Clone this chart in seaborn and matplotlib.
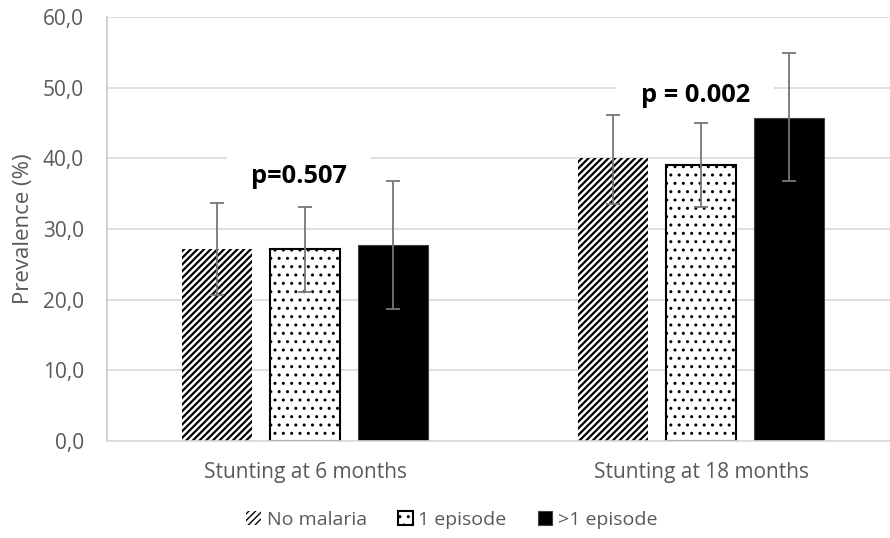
import matplotlib
matplotlib.use("Agg")
import matplotlib.pyplot as plt
import matplotlib.patches as mpatches
import seaborn as sns
import pandas as pd

# ---- data ----
categories = ["Stunting at 6 months", "Stunting at 18 months"]
groups = ["No malaria", "1 episode", ">1 episode"]
prev_no_malaria = [27.2, 40.0]
prev_one_episode = [27.2, 39.1]
prev_multi_episode = [27.7, 45.7]
upper_no_malaria = [33.7, 46.2]
upper_one_episode = [33.1, 45.0]
upper_multi_episode = [36.8, 54.9]
lower_no_malaria = [20.7, 33.5]
lower_one_episode = [21.1, 33.1]
lower_multi_episode = [18.7, 36.8]
p_labels = ["p=0.507", "p = 0.002"]
p_label_y = [36.5, 48.0]
yticks = [0, 10, 20, 30, 40, 50, 60]
ytick_labels = ["0,0", "10,0", "20,0", "30,0", "40,0", "50,0", "60,0"]
ylabel = "Prevalence (%)"

values = [prev_no_malaria, prev_one_episode, prev_multi_episode]
uppers = [upper_no_malaria, upper_one_episode, upper_multi_episode]
lowers = [lower_no_malaria, lower_one_episode, lower_multi_episode]

rows = []
for g, vals in zip(groups, values):
    for c, v in zip(categories, vals):
        rows.append({"category": c, "group": g, "value": v})
df = pd.DataFrame(rows)

sns.set_theme(style="white")
plt.rcParams["font.family"] = ["Open Sans", "DejaVu Sans"]
plt.rcParams["hatch.linewidth"] = 1.0

fig = plt.figure(figsize=(8.9, 5.38), dpi=100)
ax = fig.add_axes([107 / 890, 1 - 441 / 538, (890 - 107) / 890, (441 - 17) / 538])

sns.barplot(data=df, x="category", y="value", hue="group", order=categories,
            hue_order=groups, palette=["white", "white", "black"],
            width=0.666, gap=0.21, errorbar=None, legend=False, ax=ax,
            saturation=1, zorder=2)

styles = [
    dict(hatch="/////", edgecolor="black", linewidth=0, hlw=1.6),
    dict(hatch="..", edgecolor="black", linewidth=1.5, hlw=1.0),
    dict(hatch=None, edgecolor="#404040", linewidth=0.8, hlw=1.0),
]


def style_patch(p, st):
    p.set_facecolor("black" if st["hatch"] is None else "white")
    p.set_edgecolor(st["edgecolor"])
    p.set_linewidth(st["linewidth"])
    if st["hatch"]:
        p.set_hatch(st["hatch"])
        if hasattr(p, "set_hatch_linewidth"):
            p.set_hatch_linewidth(st["hlw"])


for cont, st, vals, up, lo in zip(ax.containers, styles, values, uppers, lowers):
    xs = []
    for bar in cont:
        style_patch(bar, st)
        xs.append(bar.get_x() + bar.get_width() / 2)
    yerr = [[v - l for v, l in zip(vals, lo)], [u - v for v, u in zip(vals, up)]]
    ax.errorbar(xs, vals, yerr=yerr, fmt="none", ecolor="#767676",
                elinewidth=1.3, capsize=5, capthick=1.3, zorder=3)

# p-value labels
for i, (txt, yv) in enumerate(zip(p_labels, p_label_y)):
    xc = i - 0.015
    ax.text(xc, yv, txt, ha="center", va="baseline", fontsize=18.3,
            fontweight="bold", color="black", zorder=1.5,
            bbox=dict(boxstyle="square,pad=0.95", facecolor="white",
                      edgecolor="none"))

ax.set_xlim(-0.5, 1.477)
ax.set_ylim(0, 60)
ax.set_yticks(yticks)
ax.set_yticklabels(ytick_labels)
ax.yaxis.grid(True, color="#d9d9d9", linewidth=1.2, zorder=0.5)
ax.set_axisbelow(True)
ax.tick_params(axis="y", length=0, pad=16.5, labelsize=15, labelcolor="#595959")
ax.tick_params(axis="x", length=0, pad=15, labelsize=15, labelcolor="#595959")
ax.set_xlabel("")
ax.set_ylabel(ylabel, fontsize=16, color="#595959")
ax.yaxis.set_label_coords(-0.093, 0.5)

for s in ["top", "right"]:
    ax.spines[s].set_visible(False)
ax.spines["left"].set_color("#c8c8c8")
ax.spines["left"].set_linewidth(1.2)
ax.spines["bottom"].set_color("#d9d9d9")
ax.spines["bottom"].set_linewidth(1.2)

# legend
handles = []
for g, st in zip(groups, styles):
    p = mpatches.Patch(label=g)
    style_patch(p, st)
    handles.append(p)
leg = fig.legend(handles=handles, loc="center", bbox_to_anchor=(452 / 890, 1 - 520 / 538),
                 ncol=3, frameon=False, fontsize=14, handlelength=0.75,
                 handleheight=0.75, handletextpad=0.3, columnspacing=1.6)
for t in leg.get_texts():
    t.set_color("#595959")

fig.savefig("out.png", dpi=100)
